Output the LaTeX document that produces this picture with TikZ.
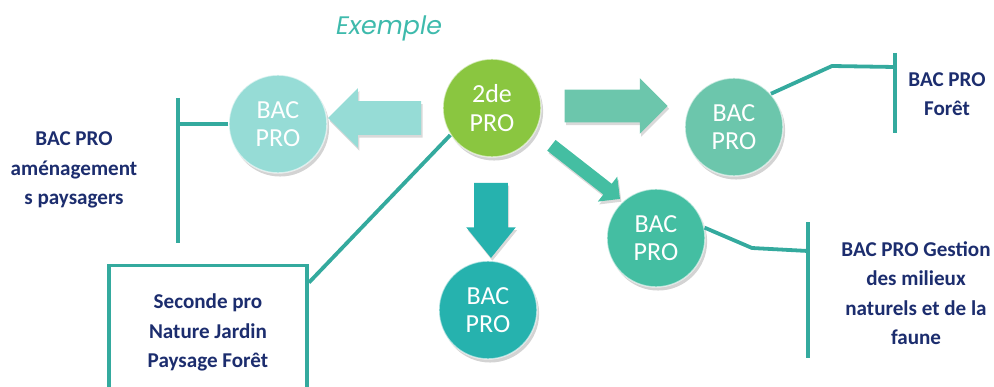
\documentclass[tikz,border=0pt]{standalone}
\usepackage{fontspec}
\setmainfont{Carlito}
\newfontfamily\exfont{Poppins}
\usetikzlibrary{shapes.arrows, shadows, calc}
\definecolor{navytext}{RGB}{28,45,110}
\definecolor{linkteal}{RGB}{52,170,158}
\definecolor{extitle}{RGB}{62,186,172}
\definecolor{greenball}{RGB}{138,198,64}
\definecolor{paleball}{RGB}{150,220,214}
\definecolor{mintball}{RGB}{108,198,172}
\definecolor{jadeball}{RGB}{68,190,162}
\definecolor{tealball}{RGB}{38,178,174}
\tikzstyle{bubble} = [circle, minimum size=2.45cm, inner sep=0pt, align=center, text=white, font=\fontsize{18.5}{20}\selectfont, draw=white, draw opacity=0.6, line width=1pt, drop shadow={shadow xshift=1.5pt, shadow yshift=-2.5pt, opacity=0.35}]
\tikzstyle{flowarrow} = [single arrow, inner xsep=0pt, drop shadow={shadow xshift=1pt, shadow yshift=-2pt, opacity=0.3}]
\tikzstyle{link} = [draw=linkteal, line width=2.7pt]
\tikzstyle{bactext} = [align=center, text=navytext, font=\fontsize{15}{21}\selectfont\bfseries]

\begin{document}
\begin{tikzpicture}[x=0.025cm, y=-0.025cm]
\useasboundingbox (0,0) rectangle (994,387);

% Title
\node[font=\exfont\itshape\fontsize{18}{20}\selectfont, text=extitle] (title) at (389,28) {Exemple};

% Texts
\node[bactext] (txtL) at (74,170) {BAC PRO\\aménagement\\s paysagers};
\node[bactext] (txtF) at (947,94) {BAC PRO\\Forêt};
\node[bactext] (txtG) at (916,293) {BAC PRO Gestion\\des milieux\\naturels et de la\\faune};
\node[bactext, draw=linkteal, line width=2.7pt, minimum width=4.95cm, minimum height=3.275cm, text depth=0pt] (box) at (208,331) {Seconde pro\\Nature Jardin\\Paysage Forêt};

% Brackets
\coordinate (barLtop) at (178,98);
\coordinate (barLbot) at (178,243);
\coordinate (kneeF) at (832,66);
\coordinate (joinF) at (895,67);
\coordinate (barFtop) at (895,53);
\coordinate (barFbot) at (895,133);
\coordinate (kneeG) at (752,248);
\coordinate (joinG) at (808,251);
\coordinate (barGtop) at (808,222);
\coordinate (barGbot) at (808,358);

% Arrows
\node[flowarrow, fill=paleball, minimum height=2.325cm, inner ysep=0.4125cm, single arrow head extend=0.325cm, rotate=180] (arrL) at (383,118) {};
\node[flowarrow, fill=mintball, minimum height=2.575cm, inner ysep=0.4cm, single arrow head extend=0.29cm] (arrF) at (608,106) {};
\node[flowarrow, fill=jadeball, minimum height=2.175cm, inner ysep=0.1625cm, single arrow head extend=0.225cm, rotate=-38] (arrG) at (583,170) {};
\node[flowarrow, fill=tealball, minimum height=1.875cm, inner ysep=0.4125cm, single arrow head extend=0.2cm, single arrow tip angle=78, rotate=-90] (arrB) at (491,210) {};

% Bubbles
\node[bubble, fill=greenball] (sec) at (492,108) {2de\\PRO};
\node[bubble, fill=paleball] (bacL) at (278,124) {BAC\\PRO};
\node[bubble, fill=mintball] (bacF) at (734,127) {BAC\\PRO};
\node[bubble, fill=jadeball] (bacG) at (656,238) {BAC\\PRO};
\node[bubble, fill=tealball] (bacB) at (488,310) {BAC\\PRO};

% Links
\draw[link] (barLtop) -- (barLbot);
\draw[link] (bacL.west) -- (bacL.west -| barLtop);
\draw[link] (sec.213) -- ($(box.north east)+(0,19)$);
\draw[link] (bacF.42) -- (kneeF) -- (joinF);
\draw[link] (barFtop) -- (barFbot);
\draw[link] (bacG.12) -- (kneeG) -- (joinG);
\draw[link] (barGtop) -- (barGbot);

\end{tikzpicture}
\end{document}
